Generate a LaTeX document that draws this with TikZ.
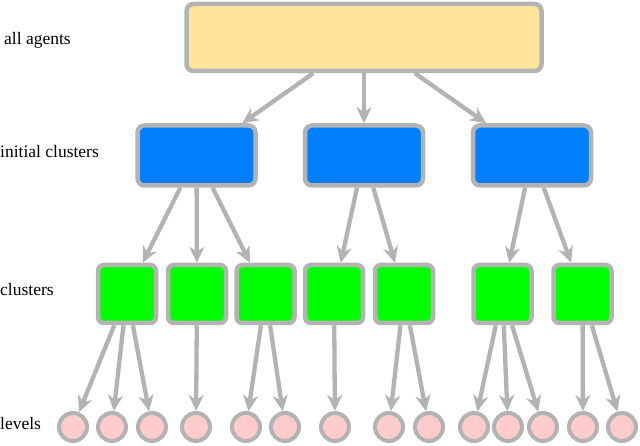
\documentclass[tikz,border=0pt]{standalone}
\usepackage{fontspec}
\setmainfont{Liberation Serif}
\usetikzlibrary{arrows.meta}
\definecolor{edgegray}{HTML}{B3B3B3}
\definecolor{topfill}{HTML}{FFE499}
\definecolor{bluefill}{HTML}{0080FF}
\definecolor{greenfill}{HTML}{00FF00}
\definecolor{pinkfill}{HTML}{FFCCCC}
\tikzset{
  box/.style={draw=edgegray, line width=4.5pt, rounded corners=7pt, inner sep=0pt},
  topbox/.style={box, fill=topfill, minimum width=355pt, minimum height=67pt},
  initbox/.style={box, fill=bluefill, minimum width=118pt, minimum height=60pt},
  clbox/.style={box, fill=greenfill, minimum width=58pt, minimum height=58pt, rounded corners=6pt},
  lvl/.style={circle, draw=edgegray, line width=4pt, fill=pinkfill, inner sep=0pt, minimum size=28pt},
  conn/.style={draw=edgegray, line width=4.3pt, -{Stealth[length=16pt, width=15pt, inset=5pt]}},
  lab/.style={anchor=base west, inner sep=0pt, font=\fontsize{17.5}{19}\selectfont}
}
\begin{document}
\begin{tikzpicture}[x=1pt, y=-1pt]
\useasboundingbox (0,0) rectangle (640,446);
\node[lab] (l1) at (4,45) {all agents};
\node[lab] (l2) at (0,158) {initial clusters};
\node[lab] (l3) at (0,296) {clusters};
\node[lab] (l4) at (0,429) {levels};

\node[topbox] (top) at (364,37.5) {};
\node[initbox] (i1) at (196.5,155.5) {};
\node[initbox] (i2) at (364,155.5) {};
\node[initbox] (i3) at (532,155.5) {};

\foreach \n/\x in {1/127,2/197,3/265.5,4/334,5/404,6/502.5,7/582.5}
  \node[clbox] (g\n) at (\x,294) {};

\foreach \n/\x in {1/73,2/112,3/152,4/196,5/246,6/285,7/335,8/389,9/429,10/474,11/508,12/543,13/583,14/622}
  \node[lvl] (c\n) at (\x,427) {};

\foreach \a/\b in {top/i1,top/i2,top/i3,
  i1/g1,i1/g2,i1/g3,i2/g4,i2/g5,i3/g6,i3/g7,
  g1/c1,g1/c2,g1/c3,g2/c4,g3/c5,g3/c6,g4/c7,g5/c8,g5/c9,
  g6/c10,g6/c11,g6/c12,g7/c13,g7/c14}
  \draw[conn] (\a) -- (\b);
\end{tikzpicture}
\end{document}
